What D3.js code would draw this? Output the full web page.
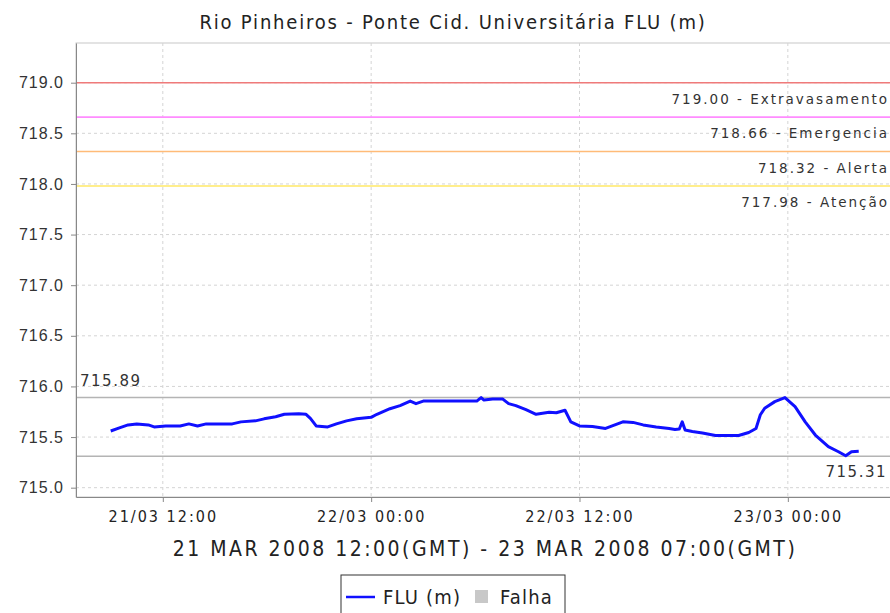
<!DOCTYPE html>
<html>
<head>
<meta charset="utf-8">
<script src="https://cdn.jsdelivr.net/npm/d3@7"></script>
<style>
  body { margin: 0; background: #fff; }
  svg { display: block; font-family: "DejaVu Sans", sans-serif; }
</style>
</head>
<body>
<svg id="chart" width="890" height="613"></svg>
<script>
// series (time in GMT, level in m)
const times = [
  '2008-03-21 09:00', '2008-03-21 09:30', '2008-03-21 10:00', '2008-03-21 10:30', '2008-03-21 11:10',
  '2008-03-21 11:30', '2008-03-21 12:10', '2008-03-21 13:00', '2008-03-21 13:30', '2008-03-21 14:00',
  '2008-03-21 14:30', '2008-03-21 16:00', '2008-03-21 16:30', '2008-03-21 17:20', '2008-03-21 17:50',
  '2008-03-21 18:30', '2008-03-21 19:00', '2008-03-21 19:50', '2008-03-21 20:15', '2008-03-21 20:30',
  '2008-03-21 20:50', '2008-03-21 21:30', '2008-03-21 22:00', '2008-03-21 22:35', '2008-03-21 23:10',
  '2008-03-22 00:00', '2008-03-22 00:20', '2008-03-22 01:05', '2008-03-22 01:40', '2008-03-22 02:15',
  '2008-03-22 02:35', '2008-03-22 03:00', '2008-03-22 06:05', '2008-03-22 06:20', '2008-03-22 06:30',
  '2008-03-22 07:00', '2008-03-22 07:35', '2008-03-22 07:55', '2008-03-22 08:20', '2008-03-22 08:55',
  '2008-03-22 09:30', '2008-03-22 10:15', '2008-03-22 10:40', '2008-03-22 11:10', '2008-03-22 11:30',
  '2008-03-22 12:00', '2008-03-22 12:45', '2008-03-22 13:30', '2008-03-22 14:30', '2008-03-22 15:05',
  '2008-03-22 15:40', '2008-03-22 16:25', '2008-03-22 17:10', '2008-03-22 17:30', '2008-03-22 17:45',
  '2008-03-22 17:55', '2008-03-22 18:05', '2008-03-22 18:30', '2008-03-22 19:05', '2008-03-22 19:50',
  '2008-03-22 21:10', '2008-03-22 21:45', '2008-03-22 22:10', '2008-03-22 22:25', '2008-03-22 22:40',
  '2008-03-22 23:15', '2008-03-22 23:50', '2008-03-23 00:25', '2008-03-23 01:00', '2008-03-23 01:35',
  '2008-03-23 02:20', '2008-03-23 02:55', '2008-03-23 03:20', '2008-03-23 03:40', '2008-03-23 04:05'
];
const levels = [
  715.56, 715.59, 715.62, 715.63, 715.62,
  715.60, 715.61, 715.61, 715.63, 715.61,
  715.63, 715.63, 715.65, 715.66, 715.68,
  715.70, 715.725, 715.73, 715.725, 715.685,
  715.61, 715.60, 715.63, 715.66, 715.68,
  715.695, 715.725, 715.78, 715.81, 715.855,
  715.83, 715.855, 715.855, 715.89, 715.865,
  715.875, 715.875, 715.83, 715.81, 715.77,
  715.725, 715.745, 715.74, 715.765, 715.65,
  715.61, 715.605, 715.585, 715.65, 715.645,
  715.62, 715.60, 715.585, 715.575, 715.58,
  715.65, 715.57, 715.555, 715.54, 715.515,
  715.515, 715.545, 715.585, 715.72, 715.785,
  715.85, 715.89, 715.80, 715.65, 715.52,
  715.405, 715.355, 715.315, 715.355, 715.36
];

const thresholdValues = [719.00, 718.66, 718.32, 717.98];
const thresholdNames = ['Extravasamento', 'Emergencia', 'Alerta', 'Atenção'];
const thresholdColors = ['#ef7a7a', '#ff8cff', '#ffbb78', '#ffe866'];

const maxLevel = 715.89;
const minLevel = 715.31;
const yTicks = [715.0, 715.5, 716.0, 716.5, 717.0, 717.5, 718.0, 718.5, 719.0];

const titleText = 'Rio Pinheiros - Ponte Cid. Universitária FLU (m)';
const periodText = '21 MAR 2008 12:00(GMT) - 23 MAR 2008 07:00(GMT)';

const condensed = '"DejaVu Sans Condensed", "DejaVu Sans", sans-serif';

const parse = d3.utcParse('%Y-%m-%d %H:%M');
const data = times.map((t, i) => ({ date: parse(t), value: levels[i] }));

const svg = d3.select('#chart');
const margin = { top: 43, right: -2, bottom: 116, left: 76 };
const width = 890 - margin.left - margin.right;
const height = 613 - margin.top - margin.bottom;

const x = d3.scaleUtc()
  .domain([parse('2008-03-21 07:00'), parse('2008-03-23 06:00')])
  .range([0, width]);
const y = d3.scaleLinear()
  .domain([714.908, 719.392])
  .range([height, 0]);

const g = svg.append('g').attr('transform', `translate(${margin.left},${margin.top})`);

// title
svg.append('text')
  .attr('x', 453).attr('y', 29)
  .attr('text-anchor', 'middle')
  .attr('font-family', condensed)
  .attr('font-size', 20)
  .attr('letter-spacing', 1.8)
  .attr('fill', '#222')
  .text(titleText);

// plot frame
g.append('rect')
  .attr('width', width).attr('height', height)
  .attr('fill', '#fff').attr('stroke', '#c8c8c8');

// grid
const xTicks = x.ticks(d3.utcHour.every(12));
g.selectAll('.vgrid').data(xTicks).enter().append('line')
  .attr('class', 'vgrid')
  .attr('x1', d => x(d)).attr('x2', d => x(d))
  .attr('y1', 0).attr('y2', height)
  .attr('stroke', '#d4d4d4').attr('stroke-dasharray', '3,3');
g.selectAll('.hgrid').data(yTicks).enter().append('line')
  .attr('class', 'hgrid')
  .attr('x1', 0).attr('x2', width)
  .attr('y1', d => y(d)).attr('y2', d => y(d))
  .attr('stroke', '#d4d4d4').attr('stroke-dasharray', '3,3');

// thresholds
thresholdValues.forEach((v, i) => {
  g.append('line')
    .attr('x1', 0).attr('x2', width)
    .attr('y1', y(v)).attr('y2', y(v))
    .attr('stroke', thresholdColors[i]).attr('stroke-width', 1.6);
  g.append('text')
    .attr('x', 813).attr('y', y(v) + 21)
    .attr('text-anchor', 'end')
    .attr('font-size', 13.5)
    .attr('letter-spacing', 2)
    .attr('fill', '#333')
    .text(`${v.toFixed(2)} - ${thresholdNames[i]}`);
});

// max / min markers
g.append('line')
  .attr('x1', 0).attr('x2', width)
  .attr('y1', y(maxLevel)).attr('y2', y(maxLevel))
  .attr('stroke', '#b4b4b4').attr('stroke-width', 1.5);
g.append('line')
  .attr('x1', 0).attr('x2', width)
  .attr('y1', y(minLevel)).attr('y2', y(minLevel))
  .attr('stroke', '#b4b4b4').attr('stroke-width', 1.5);
g.append('text')
  .attr('x', 4).attr('y', y(maxLevel) - 12)
  .attr('font-size', 15).attr('letter-spacing', 1.5)
  .attr('fill', '#333')
  .text(maxLevel.toFixed(2));
g.append('text')
  .attr('x', 811).attr('y', y(minLevel) + 21)
  .attr('text-anchor', 'end')
  .attr('font-size', 15).attr('letter-spacing', 1.5)
  .attr('fill', '#333')
  .text(minLevel.toFixed(2));

// series
const line = d3.line().x(d => x(d.date)).y(d => y(d.value));
g.append('path')
  .datum(data)
  .attr('fill', 'none')
  .attr('stroke', '#1010ff')
  .attr('stroke-width', 3)
  .attr('stroke-linejoin', 'round')
  .attr('d', line);

// axes
const yAxis = g.append('g')
  .call(d3.axisLeft(y).tickValues(yTicks).tickFormat(d3.format('.1f')).tickSize(5).tickSizeOuter(0));
yAxis.select('.domain').attr('stroke', '#888');
yAxis.selectAll('.tick line').attr('stroke', '#888');
yAxis.selectAll('.tick text')
  .attr('x', -12)
  .attr('font-size', 16)
  .attr('letter-spacing', 1)
  .attr('fill', '#333');

const xAxis = g.append('g')
  .attr('transform', `translate(0,${height})`)
  .call(d3.axisBottom(x).ticks(d3.utcHour.every(12)).tickFormat(d3.utcFormat('%d/%m %H:%M')).tickSize(5).tickSizeOuter(0));
xAxis.select('.domain').attr('stroke', '#888');
xAxis.selectAll('.tick line').attr('stroke', '#888');
xAxis.selectAll('.tick text')
  .attr('y', 14)
  .attr('font-family', condensed)
  .attr('font-size', 16)
  .attr('letter-spacing', 2)
  .attr('fill', '#222');

svg.append('text')
  .attr('x', 485).attr('y', 556)
  .attr('text-anchor', 'middle')
  .attr('font-family', condensed)
  .attr('font-size', 21)
  .attr('letter-spacing', 2.5)
  .attr('fill', '#222')
  .text(periodText);

// legend
const legend = svg.append('g').attr('transform', 'translate(341,575)');
legend.append('rect')
  .attr('width', 224).attr('height', 45)
  .attr('fill', '#fff').attr('stroke', '#333');
legend.append('line')
  .attr('x1', 5).attr('x2', 34).attr('y1', 22).attr('y2', 22)
  .attr('stroke', '#1010ff').attr('stroke-width', 2.5);
legend.append('text')
  .attr('x', 42).attr('y', 29)
  .attr('font-family', condensed)
  .attr('font-size', 20).attr('letter-spacing', 1.2).attr('fill', '#222')
  .text('FLU (m)');
legend.append('rect')
  .attr('x', 134).attr('y', 15).attr('width', 13).attr('height', 13)
  .attr('fill', '#c8c8c8');
legend.append('text')
  .attr('x', 159).attr('y', 29)
  .attr('font-family', condensed)
  .attr('font-size', 20).attr('letter-spacing', 1.2).attr('fill', '#222')
  .text('Falha');
</script>
</body>
</html>
